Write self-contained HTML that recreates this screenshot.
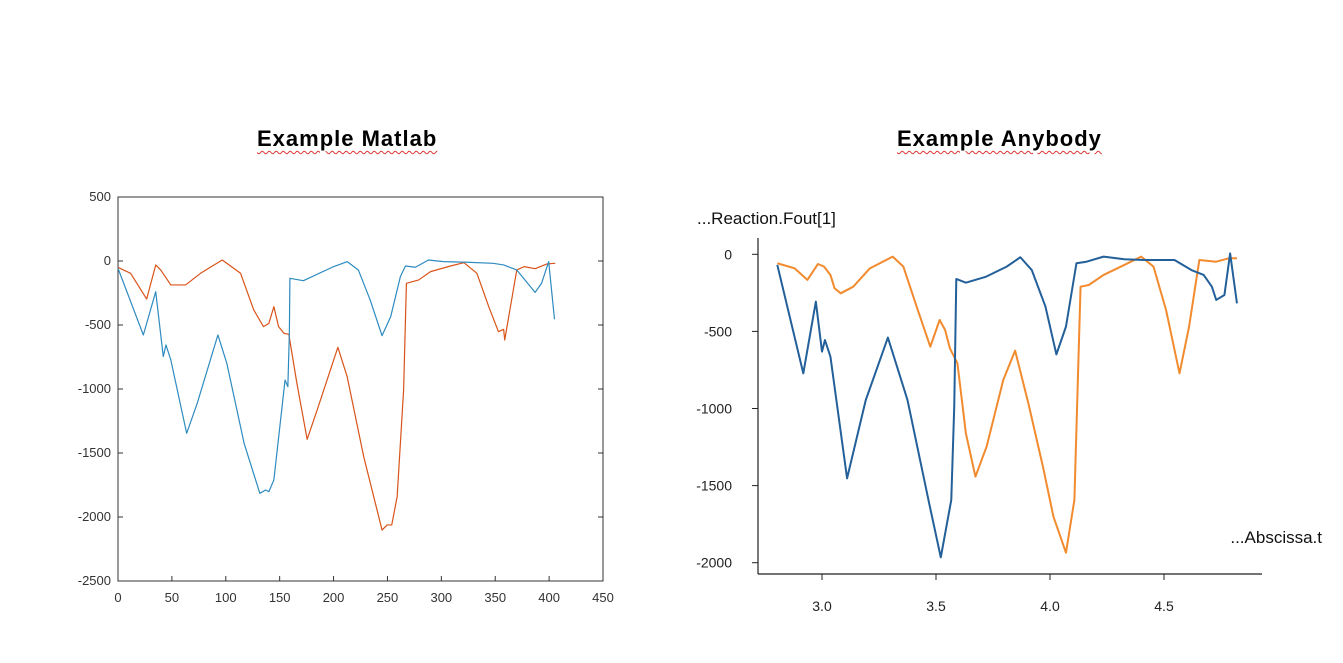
<!DOCTYPE html>
<html><head><meta charset="utf-8"><style>
body{margin:0;background:#fff;width:1343px;height:663px;overflow:hidden;font-family:"Liberation Sans",sans-serif}
.t{position:absolute;font-weight:bold;font-size:22px;letter-spacing:1px;text-decoration:underline wavy #d33;text-decoration-thickness:1px;text-underline-offset:4px;color:#000}
</style></head><body>
<div class="t" style="left:257px;top:126px">Example Matlab</div>
<div class="t" style="left:897px;top:126px">Example Anybody</div>
<svg id="s" width="1343" height="663" style="position:absolute;left:0;top:0"></svg>
<script>
// Left chart data (Matlab)
const mBlueX=[0,23.5,35,42,44.5,49,63.7,73.5,92.7,101,117,131.6,137,140,144.6,155,157.6,159,159.5,172,200,212.6,223,234,245,253,262,266.7,276,288,302,324,348,357.8,370,387,393,399.6,405];
const mBlueY=[-57,-578,-240,-747,-656,-773,-1346,-1112,-578,-800,-1424,-1815,-1789,-1802,-1711,-930,-982,-565,-135,-154,-44,-5,-70,-305,-583,-435,-122,-39,-49,8,-5,-10,-18,-31,-70,-245,-174,-5,-456];
const mOrX=[0,11.7,26.6,35,39.6,49,62.7,76.6,96.7,113.7,126,135,140,144.6,149,154,158.5,166,175.5,184.8,204,212.6,228,245,249.7,254,259,265,267.6,279,290,308.4,321,333,344,353,357.8,358.8,370,376.8,387,398,405.7];
const mOrY=[-50,-96,-297,-31,-70,-187,-187,-96,8,-96,-383,-513,-487,-357,-513,-565,-573,-956,-1393,-1164,-674,-903,-1529,-2102,-2062,-2062,-1841,-1008,-174,-148,-83,-39,-13,-96,-357,-552,-534,-617,-70,-44,-60,-23,-18];
const mXTicks=[0,50,100,150,200,250,300,350,400,450];
const mYTicks=[500,0,-500,-1000,-1500,-2000,-2500];
// Right chart data (Anybody)
const aBlueX=[2.804,2.918,2.973,3.0,3.013,3.037,3.11,3.192,3.289,3.375,3.47,3.521,3.567,3.58,3.589,3.631,3.72,3.81,3.87,3.92,3.98,4.028,4.07,4.116,4.16,4.235,4.326,4.418,4.546,4.62,4.674,4.71,4.729,4.765,4.79,4.82];
const aBlueY=[-69,-772,-307,-631,-556,-664,-1453,-945,-540,-945,-1615,-1965,-1593,-988,-160,-184,-145,-80,-19,-102,-339,-649,-469,-58,-48,-15,-32,-37,-37,-102,-134,-210,-296,-264,6,-318];
const aOrX=[2.804,2.88,2.936,2.982,3.009,3.037,3.055,3.082,3.137,3.21,3.31,3.357,3.42,3.475,3.516,3.54,3.561,3.594,3.631,3.673,3.722,3.795,3.847,3.905,3.969,4.015,4.07,4.107,4.134,4.17,4.235,4.326,4.4,4.454,4.509,4.568,4.61,4.655,4.729,4.784,4.82];
const aOrY=[-58,-91,-166,-63,-80,-134,-220,-253,-210,-91,-15,-80,-361,-599,-426,-491,-610,-707,-1161,-1442,-1247,-815,-625,-966,-1377,-1701,-1935,-1593,-210,-199,-134,-69,-15,-80,-361,-772,-469,-37,-48,-26,-26];
const aXTicks=[3.0,3.5,4.0,4.5];
const aYTicks=[0,-500,-1000,-1500,-2000];

const s=document.getElementById('s');const NS='http://www.w3.org/2000/svg';
function mk(t,a){const e=document.createElementNS(NS,t);for(const k in a)e.setAttribute(k,a[k]);s.appendChild(e);return e;}
const lx=v=>118+v*(485/450), ly=v=>261-v*0.128;
const box=mk('rect',{x:118,y:197,width:485,height:384,fill:'none',stroke:'#333','stroke-width':1});


mXTicks.forEach(v=>{const x=lx(v);
 const tk=mk('line',{x1:x,x2:x,y1:581,y2:576,stroke:'#333'});
 
 
 const t=mk('text',{x:x,y:602,'font-size':13,'text-anchor':'middle',fill:'#333'});t.textContent=v;
 
 });
mYTicks.forEach(v=>{const y=ly(v);
 const tk=mk('line',{x1:118,x2:123,y1:y,y2:y,stroke:'#333'});
 
 
 const tk2=mk('line',{x1:603,x2:598,y1:y,y2:y,stroke:'#333'});
 
 
 const t=mk('text',{x:111,y:y+4,'font-size':13,'text-anchor':'end',fill:'#333'});t.textContent=v;
 
 });
function line(X,Y,fx,fy,c,name,w){const p=mk('polyline',{points:X.map((x,i)=>fx(x)+','+fy(Y[i])).join(' '),fill:'none',stroke:c,'stroke-width':w,'stroke-linejoin':'round'});
 
 }
line(mOrX,mOrY,lx,ly,'#d95319','matlab-series-orange',1.2);
line(mBlueX,mBlueY,lx,ly,'#2e8bc0','matlab-series-blue',1.2);
const rx=v=>822+(v-3)*228, ry=v=>254.3-v*0.1542;
const ya=mk('line',{x1:758,x2:758,y1:238,y2:574,stroke:'#222','stroke-width':1.2});


const xa=mk('line',{x1:758,x2:1262,y1:574,y2:574,stroke:'#222','stroke-width':1.2});


aYTicks.forEach(v=>{const y=ry(v);
 const tk=mk('line',{x1:752,x2:758,y1:y,y2:y,stroke:'#222'});
 
 
 const t=mk('text',{x:732,y:y+5,'font-size':14,'text-anchor':'end',fill:'#222'});t.textContent=v;
 
 });
aXTicks.forEach(v=>{const x=rx(v);
 const tk=mk('line',{x1:x,x2:x,y1:574,y2:580,stroke:'#222'});
 
 
 const t=mk('text',{x:x,y:611,'font-size':14,'text-anchor':'middle',fill:'#222'});t.textContent=v.toFixed(1);
 
 });
const yl=mk('text',{x:697,y:224,'font-size':17,fill:'#111'});yl.textContent='...Reaction.Fout[1]';


const xl=mk('text',{x:1322,y:543,'font-size':17,'text-anchor':'end',fill:'#111'});xl.textContent='...Abscissa.t';


line(aOrX,aOrY,rx,ry,'#f28a2e','anybody-series-orange',2);
line(aBlueX,aBlueY,rx,ry,'#23609a','anybody-series-blue',2);
</script>
</body></html>
